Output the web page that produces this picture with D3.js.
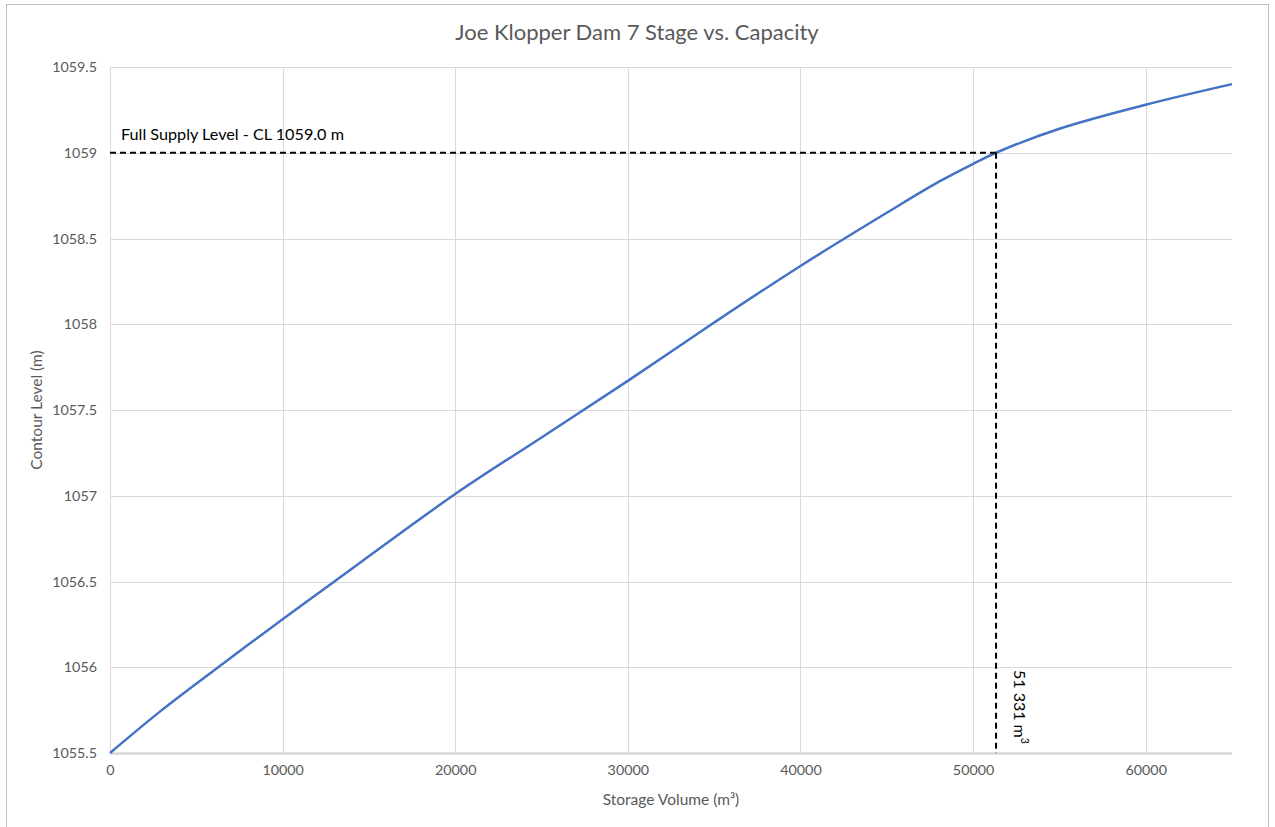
<!DOCTYPE html>
<html>
<head>
<meta charset="utf-8">
<script src="https://cdn.jsdelivr.net/npm/d3@7"></script>
<style>
  html, body { margin: 0; padding: 0; background: #fff; }
  svg { display: block; font-family: Lato, "Open Sans", sans-serif; }
</style>
</head>
<body>
<svg id="chart" width="1275" height="827"></svg>
<script>
const title = "Joe Klopper Dam 7 Stage vs. Capacity";
const volumes = [0, 3000, 6000, 10000, 13000, 20000, 25000, 30000, 35000, 40000, 45000, 48000, 50000, 51331, 55000, 60000, 65000];
const levels  = [1055.5, 1055.75, 1055.98, 1056.28, 1056.50, 1057.01, 1057.34, 1057.67, 1058.01, 1058.34, 1058.65, 1058.83, 1058.935, 1059.0, 1059.14, 1059.28, 1059.40];
const xTicks = [0, 10000, 20000, 30000, 40000, 50000, 60000];
const yTicks = [1055.5, 1056, 1056.5, 1057, 1057.5, 1058, 1058.5, 1059, 1059.5];
const fslLevel = 1059.0;
const fslVolume = 51331;
const fslLabel = "Full Supply Level - CL 1059.0 m";
const volLabel = "51 331 m";

const svg = d3.select("#chart");
const m = { left: 110, right: 1232, top: 67, bottom: 753 };

svg.append("rect").attr("x", 6.5).attr("y", 4.5).attr("width", 1262).attr("height", 830)
  .attr("fill", "#fff").attr("stroke", "#bfbfbf").attr("stroke-width", 1);

const x = d3.scaleLinear().domain([0, 65000]).range([m.left, m.right]);
const y = d3.scaleLinear().domain([1055.5, 1059.5]).range([m.bottom, m.top]);

// gridlines
svg.append("g").selectAll("line").data(yTicks).join("line")
  .attr("x1", m.left).attr("x2", m.right)
  .attr("y1", d => Math.round(y(d)) + 0.5).attr("y2", d => Math.round(y(d)) + 0.5)
  .attr("stroke", "#d9d9d9").attr("stroke-width", 1);
svg.append("g").selectAll("line").data(xTicks).join("line")
  .attr("y1", m.top).attr("y2", m.bottom)
  .attr("x1", d => Math.round(x(d)) + 0.5).attr("x2", d => Math.round(x(d)) + 0.5)
  .attr("stroke", "#d9d9d9").attr("stroke-width", 1);

// bottom axis line
svg.append("line").attr("x1", m.left).attr("x2", m.right)
  .attr("y1", m.bottom + 0.5).attr("y2", m.bottom + 0.5)
  .attr("stroke", "#d0d0d0").attr("stroke-width", 2);

// x axis
const xAxis = svg.append("g").attr("transform", `translate(0,${m.bottom})`)
  .call(d3.axisBottom(x).tickValues(xTicks).tickSize(0).tickPadding(12).tickFormat(d3.format("d")));
xAxis.select(".domain").remove();
xAxis.selectAll("text").attr("fill", "#595959").style("font-size", "14.3px").style("font-family", "Lato, sans-serif");

// y axis
const yAxis = svg.append("g").attr("transform", `translate(${m.left},0)`)
  .call(d3.axisLeft(y).tickValues(yTicks).tickSize(0).tickPadding(13).tickFormat(d => String(d)));
yAxis.select(".domain").remove();
yAxis.selectAll("text").attr("fill", "#595959").style("font-size", "14.3px").style("font-family", "Lato, sans-serif");

// data line
const data = volumes.map((v, i) => ({ v, l: levels[i] }));
svg.append("path").datum(data)
  .attr("fill", "none").attr("stroke", "#4472c4").attr("stroke-width", 2.5)
  .attr("stroke-linejoin", "round")
  .attr("d", d3.line().x(d => x(d.v)).y(d => y(d.l)).curve(d3.curveCatmullRom.alpha(0.5)));

// FSL dashed lines
svg.append("line")
  .attr("x1", m.left).attr("x2", x(fslVolume))
  .attr("y1", y(fslLevel)).attr("y2", y(fslLevel))
  .attr("stroke", "#000").attr("stroke-width", 2).attr("stroke-dasharray", "6,4");
svg.append("line")
  .attr("x1", x(fslVolume)).attr("x2", x(fslVolume))
  .attr("y1", y(fslLevel)).attr("y2", m.bottom)
  .attr("stroke", "#000").attr("stroke-width", 2).attr("stroke-dasharray", "6,4");

svg.append("text").attr("x", 121).attr("y", y(fslLevel) - 13)
  .attr("fill", "#000").style("font-size", "16.2px").text(fslLabel);

const vt = svg.append("text")
  .attr("transform", `translate(${x(fslVolume) + 18},${670}) rotate(90)`)
  .attr("fill", "#000").style("font-size", "16px");
vt.append("tspan").text(volLabel);
vt.append("tspan").attr("dy", -7).style("font-size", "10.5px").text("3");

// title
svg.append("text").attr("x", 637).attr("y", 40).attr("text-anchor", "middle")
  .attr("fill", "#595959").style("font-size", "22px").text(title);

// axis titles
svg.append("text").attr("x", 671).attr("y", 805).attr("text-anchor", "middle")
  .attr("fill", "#595959").style("font-size", "15.5px").text("Storage Volume (m³)");

svg.append("text").attr("transform", `translate(42,410) rotate(-90)`).attr("text-anchor", "middle")
  .attr("fill", "#595959").style("font-size", "15.5px").text("Contour Level (m)");
</script>
</body>
</html>
